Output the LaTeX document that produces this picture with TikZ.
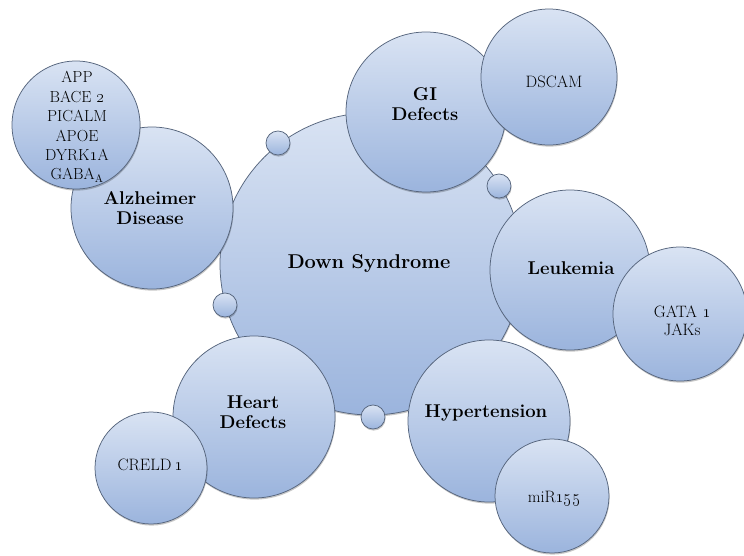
\documentclass[tikz,border=0pt]{standalone}
\usetikzlibrary{shadows}
\definecolor{bubtop}{HTML}{D9E3F3}
\definecolor{bubbot}{HTML}{9BB4DD}
\definecolor{bubline}{HTML}{56657D}
\tikzset{
  bubble/.style={circle, inner sep=0pt, draw=bubline, line width=0.75pt,
    top color=bubtop, bottom color=bubbot,
    drop shadow={shadow xshift=0.6pt, shadow yshift=-1.6pt, opacity=0.22, fill=black}},
  bigtxt/.style={font=\fontsize{20}{22}\selectfont\bfseries, text=black, inner sep=0pt},
  boldtxt/.style={font=\fontsize{18.5}{20}\selectfont\bfseries, text=black, inner sep=0pt, align=center},
  gentxt/.style={font=\fontsize{16.5}{18}\selectfont, text=black, inner sep=0pt, align=center},
}
\begin{document}
\begin{tikzpicture}[x=1pt, y=-1pt]
\useasboundingbox (0,0) rectangle (744,555);
\fill[white] (0,0) rectangle (744,555);
% central circle
\node[bubble, minimum size=302pt] (ds) at (371,264) {};
% small bubbles on its rim
\node[bubble, minimum size=24pt] (b1) at (278,143) {};
\node[bubble, minimum size=24pt] (b2) at (499,186) {};
\node[bubble, minimum size=24pt] (b3) at (225,305) {};
\node[bubble, minimum size=24pt] (b4) at (373,417) {};
% satellites
\node[bubble, minimum size=162pt] (alz) at (152,208) {};
\node[bubble, minimum size=128pt] (algenes) at (76,125) {};
\node[bubble, minimum size=160pt] (gi) at (426,112) {};
\node[bubble, minimum size=136pt] (gigenes) at (549,77) {};
\node[bubble, minimum size=160pt] (leu) at (570,270) {};
\node[bubble, minimum size=134pt] (leugenes) at (680,314) {};
\node[bubble, minimum size=162pt] (heart) at (254,417) {};
\node[bubble, minimum size=112pt] (heartgenes) at (151,468) {};
\node[bubble, minimum size=162pt] (hyp) at (489,421) {};
\node[bubble, minimum size=114pt] (hypgenes) at (552,496) {};
% labels
\node[bigtxt, anchor=base] (dst) at (369,268) {Down Syndrome};
\node[boldtxt] (alzt) at (150,208) {Alzheimer\\Disease};
\node[gentxt, font=\fontsize{16}{19.4}\selectfont] (algenest) at (77,127)
  {APP\\BACE \oldstylenums{2}\\PICALM\\APOE\\DYRK\oldstylenums{1}A\\GABA$_{\mathrm{A}}$};
\node[boldtxt] (git) at (425,104) {GI\\Defects};
\node[gentxt, anchor=base] (gigenest) at (554,87) {DSCAM};
\node[boldtxt, anchor=base] (leut) at (571,274) {Leukemia};
\node[gentxt] (leugenest) at (682,321) {GATA \oldstylenums{1}\\JAKs};
\node[boldtxt] (heartt) at (253,412) {Heart\\Defects};
\node[gentxt, anchor=base] (heartgenest) at (150,470) {CRELD\,\oldstylenums{1}};
\node[boldtxt, anchor=base] (hypt) at (486,417) {Hypertension};
\node[gentxt, anchor=base] (hypgenest) at (554,502) {miR\oldstylenums{155}};
\end{tikzpicture}
\end{document}
